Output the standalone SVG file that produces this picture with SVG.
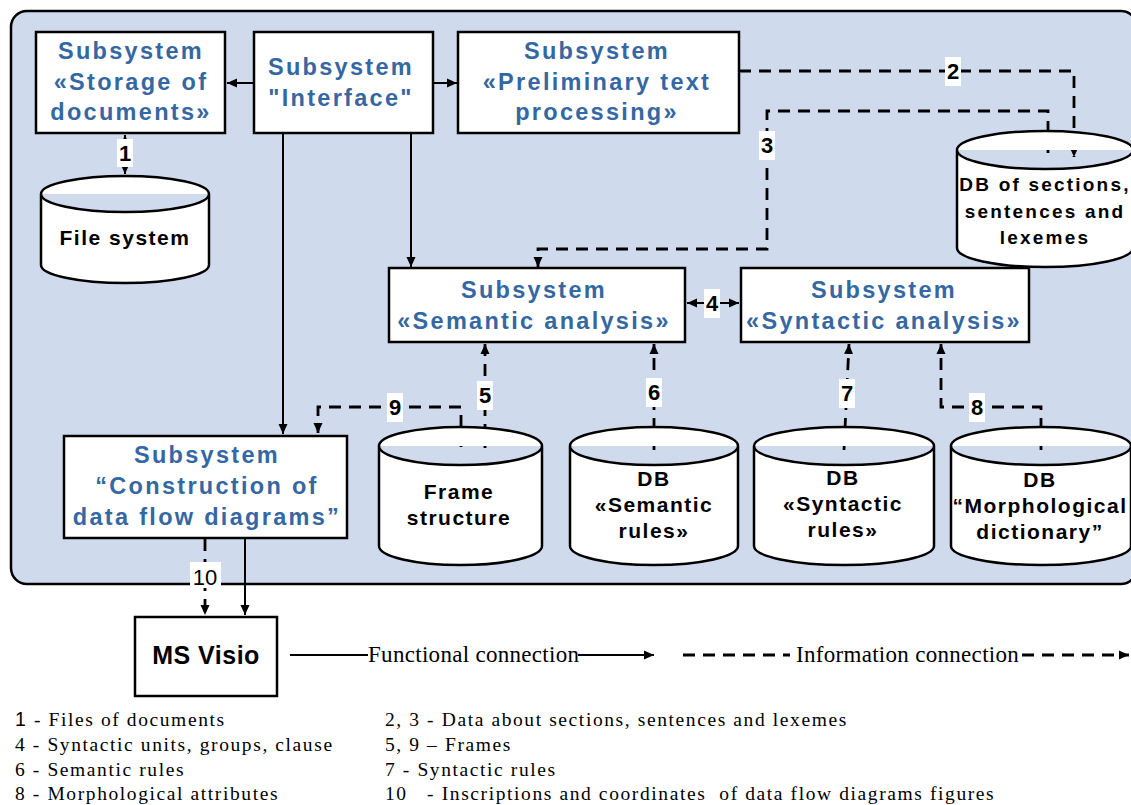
<svg xmlns="http://www.w3.org/2000/svg" width="1131" height="805" viewBox="0 0 1131 805">
<style>
.box{fill:#fff;stroke:#000;stroke-width:2.5}
.cyl{fill:#fff;stroke:#000;stroke-width:2.5}
.bt{font-family:"Liberation Sans",Arial,sans-serif;font-weight:bold;font-size:23.5px;fill:#3567a3;text-anchor:middle;letter-spacing:2.3px}
.ct{font-family:"Liberation Sans",Arial,sans-serif;font-weight:bold;font-size:21px;fill:#000;text-anchor:middle;letter-spacing:1.5px}
.ct2{font-family:"Liberation Sans",Arial,sans-serif;font-weight:bold;font-size:19px;fill:#000;text-anchor:middle;letter-spacing:2.2px}
.num{font-family:"Liberation Sans",Arial,sans-serif;font-weight:bold;font-size:22px;fill:#000;text-anchor:middle}
.lbg{fill:#fff}
.sol{fill:none;stroke:#000;stroke-width:2}
.dash{fill:none;stroke:#000;stroke-width:2.8;stroke-dasharray:12 8}
.leg{font-family:"Liberation Serif","Times New Roman",serif;font-size:23px;fill:#000;letter-spacing:0.3px}
.ser{font-family:"Liberation Serif","Times New Roman",serif;font-size:19.5px;fill:#000;letter-spacing:1.6px;white-space:pre}
</style>
<defs>
<marker id="ah" markerUnits="userSpaceOnUse" markerWidth="11" markerHeight="10" refX="10" refY="5" orient="auto-start-reverse">
<path d="M0,0.5 L10,5 L0,9.5 z" fill="#000" stroke="none"/>
</marker>
</defs>
<rect x="11" y="11" width="1126" height="573" rx="16" fill="#cfdbec" stroke="#000" stroke-width="2.5"/>

<g id="connectors">
<path class="sol" d="M254,83 H227" marker-end="url(#ah)"/>
<path class="sol" d="M433,83 H457" marker-end="url(#ah)"/>
<path class="sol" d="M411,133 V267" marker-end="url(#ah)"/>
<path class="sol" d="M283,133 V434" marker-end="url(#ah)"/>
<path class="dash" style="stroke-width:2;stroke-dasharray:6 5" d="M125,135 V174" marker-start="url(#ah)" marker-end="url(#ah)"/>
<path class="dash" d="M739,71 H1074 V157" marker-end="url(#ah)"/>
<path class="dash" d="M1048,153 V111 H767 V249 H538 V267" marker-end="url(#ah)"/>
<path class="sol" d="M687,303 H739" marker-start="url(#ah)" marker-end="url(#ah)"/>
<path class="dash" d="M485,344 V448" marker-start="url(#ah)" marker-end="url(#ah)"/>
<path class="dash" d="M461,447 V407 H318 V433" marker-end="url(#ah)"/>
<path class="dash" d="M654,450 V344" marker-end="url(#ah)"/>
<path class="dash" d="M844,450 L849,344" marker-end="url(#ah)"/>
<path class="dash" d="M1041,450 V407 H941 V344" marker-end="url(#ah)"/>
<path class="dash" d="M205,539 V615" marker-end="url(#ah)"/>
<path class="sol" d="M245,539 V615" marker-end="url(#ah)"/>
<rect class="lbg" x="117" y="139" width="16" height="28"/>
<text class="num" x="125" y="161">1</text>
<rect class="lbg" x="945" y="57" width="16" height="29"/>
<text class="num" x="953" y="79">2</text>
<rect class="lbg" x="759" y="131" width="16" height="29"/>
<text class="num" x="767" y="153">3</text>
<rect class="lbg" x="704" y="289" width="16" height="29"/>
<text class="num" x="712" y="311">4</text>
<rect class="lbg" x="477" y="381" width="16" height="29"/>
<text class="num" x="485" y="403">5</text>
<rect class="lbg" x="646" y="378" width="16" height="29"/>
<text class="num" x="654" y="400">6</text>
<rect class="lbg" x="839" y="379" width="16" height="29"/>
<text class="num" x="847" y="401">7</text>
<rect class="lbg" x="969" y="393" width="16" height="29"/>
<text class="num" x="977" y="415">8</text>
<rect class="lbg" x="387" y="393" width="16" height="29"/>
<text class="num" x="395" y="415">9</text>
<rect class="lbg" x="190" y="562" width="31" height="26"/>
<text x="205" y="585" font-family="Liberation Sans,Arial,sans-serif" font-size="22" text-anchor="middle">10</text>
</g>

<g id="storage">
<rect class="box" x="36" y="32" width="189" height="101"/>
<text class="bt" x="131" y="59">Subsystem</text>
<text class="bt" x="131" y="90">«Storage of</text>
<text class="bt" x="131" y="120">documents»</text>
</g>
<g id="interface">
<rect class="box" x="254" y="32" width="179" height="101"/>
<text class="bt" x="341" y="75">Subsystem</text>
<text class="bt" x="341" y="106">"Interface"</text>
</g>
<g id="prelim">
<rect class="box" x="458" y="32" width="281" height="101"/>
<text class="bt" x="597" y="59">Subsystem</text>
<text class="bt" x="597" y="90">«Preliminary text</text>
<text class="bt" x="597" y="120">processing»</text>
</g>
<g id="filesystem">
<path class="cyl" d="M41,194 A84,18 0 0 1 209,194 V265 A84,18 0 0 1 41,265 Z M41,194 A84,18 0 0 0 209,194"/>
<text class="ct" x="125" y="245">File system</text>
</g>
<g id="dbsections">
<path class="cyl" d="M957,150 A88,19 0 0 1 1133,150 V248 A88,19 0 0 1 957,248 Z M957,150 A88,19 0 0 0 1133,150"/>
<text class="ct2" x="1045" y="191">DB of sections,</text>
<text class="ct2" x="1045" y="218">sentences and</text>
<text class="ct2" x="1045" y="244">lexemes</text>
</g>
<g id="semantic">
<rect class="box" x="389" y="268" width="296" height="74"/>
<text class="bt" x="534" y="298">Subsystem</text>
<text class="bt" x="534" y="329">«Semantic analysis»</text>
</g>
<g id="syntactic">
<rect class="box" x="741" y="268" width="288" height="74"/>
<text class="bt" x="884" y="298">Subsystem</text>
<text class="bt" x="884" y="329">«Syntactic analysis»</text>
</g>
<g id="construction">
<rect class="box" x="64" y="436" width="283" height="102"/>
<text class="bt" x="207" y="463">Subsystem</text>
<text class="bt" x="207" y="494">“Construction of</text>
<text class="bt" x="207" y="525">data flow diagrams”</text>
</g>
<g id="frame">
<path class="cyl" d="M379,446 A81.5,19 0 0 1 542,446 V546 A81.5,19 0 0 1 379,546 Z M379,446 A81.5,19 0 0 0 542,446"/>
<text class="ct" x="459" y="499">Frame</text>
<text class="ct" x="459" y="525">structure</text>
</g>
<g id="semrules">
<path class="cyl" d="M570,446 A84,19 0 0 1 738,446 V546 A84,19 0 0 1 570,546 Z M570,446 A84,19 0 0 0 738,446"/>
<text class="ct" x="654" y="486">DB</text>
<text class="ct" x="654" y="512">«Semantic</text>
<text class="ct" x="654" y="538">rules»</text>
</g>
<g id="synrules">
<path class="cyl" d="M754,446 A90,19 0 0 1 934,446 V546 A90,19 0 0 1 754,546 Z M754,446 A90,19 0 0 0 934,446"/>
<text class="ct" x="843" y="485">DB</text>
<text class="ct" x="843" y="511">«Syntactic</text>
<text class="ct" x="843" y="537">rules»</text>
</g>
<g id="morph">
<path class="cyl" d="M951,446 A90,19 0 0 1 1131,446 V546 A90,19 0 0 1 951,546 Z M951,446 A90,19 0 0 0 1131,446"/>
<text class="ct" x="1040" y="487">DB</text>
<text class="ct" x="1040" y="513">“Morphological</text>
<text class="ct" x="1040" y="539">dictionary”</text>
</g>
<g id="msvisio">
<rect class="box" x="135" y="617" width="142" height="79"/>
<text x="206" y="664" font-family="Liberation Sans,Arial,sans-serif" font-weight="bold" font-size="25" text-anchor="middle" letter-spacing="0.5">MS Visio</text>
</g>

<g id="legend">
<path class="sol" d="M290,655 H368"/>
<text class="leg" x="368" y="662">Functional connection</text>
<path class="sol" d="M578,655 H654" marker-end="url(#ah)"/>
<path class="dash" d="M683,655 H790"/>
<text class="leg" x="796" y="662">Information connection</text>
<path class="dash" d="M1022,655 H1129" marker-end="url(#ah)"/>
</g>
<g id="notes">
<text class="ser" x="15" y="726"><tspan font-family="Liberation Sans,Arial,sans-serif">1</tspan> - Files of documents</text>
<text class="ser" x="15" y="751">4 - Syntactic units, groups, clause</text>
<text class="ser" x="15" y="776">6 - Semantic rules</text>
<text class="ser" x="15" y="800">8 - Morphological attributes</text>
<text class="ser" x="385" y="726">2, 3 - Data about sections, sentences and lexemes</text>
<text class="ser" x="385" y="751">5, 9 – Frames</text>
<text class="ser" x="385" y="776">7 - Syntactic rules</text>
<text class="ser" x="385" y="800">10   - Inscriptions and coordinates  of data flow diagrams figures</text>
</g>
</svg>
